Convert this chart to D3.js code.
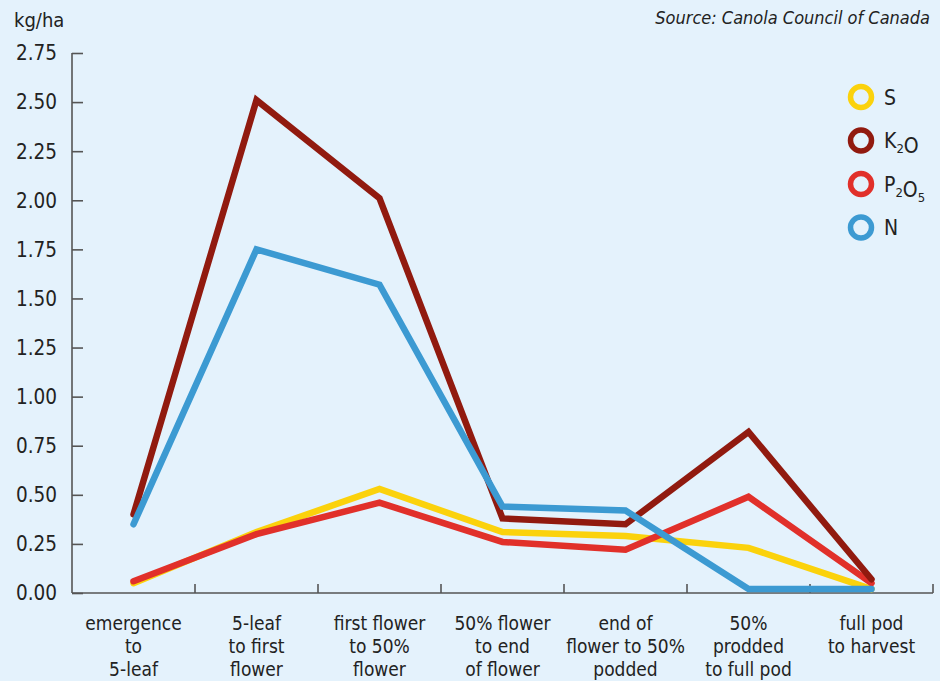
<!DOCTYPE html>
<html>
<head>
<meta charset="utf-8">
<script src="https://cdn.jsdelivr.net/npm/d3@7"></script>
<style>
  html, body { margin: 0; padding: 0; background: #e4f2fc; }
  svg { display: block; }
  text { font-family: "Liberation Sans Narrow", "DejaVu Sans Condensed", "Roboto", sans-serif; fill: #222; }
</style>
</head>
<body>
<svg id="chart" width="940" height="681"></svg>
<script>
// Growth stages of canola
const stages = [
  ["emergence", "to", "5-leaf"],
  ["5-leaf", "to first", "flower"],
  ["first flower", "to 50%", "flower"],
  ["50% flower", "to end", "of flower"],
  ["end of", "flower to 50%", "podded"],
  ["50%", "prodded", "to full pod"],
  ["full pod", "to harvest"]
];

// Daily nutrient uptake, kg/ha
const sValues   = [0.05, 0.31, 0.53, 0.31, 0.29, 0.23, 0.02];
const k2oValues = [0.40, 2.51, 2.01, 0.38, 0.35, 0.82, 0.07];
const p2o5Values = [0.06, 0.30, 0.46, 0.26, 0.22, 0.49, 0.05];
const nValues   = [0.35, 1.75, 1.57, 0.44, 0.42, 0.02, 0.02];

const yTicks = [0, 0.25, 0.5, 0.75, 1.0, 1.25, 1.5, 1.75, 2.0, 2.25, 2.5, 2.75];

const series = [
  { key: "S",    values: sValues,    color: "#fbd20c" },
  { key: "P2O5", values: p2o5Values, color: "#e1302a" },
  { key: "K2O",  values: k2oValues,  color: "#911a0f" },
  { key: "N",    values: nValues,    color: "#3c9ad2" }
];
// legend order, top to bottom
const legendOrder = ["S", "K2O", "P2O5", "N"];

const svg = d3.select("#chart");
const plotLeft = 72, plotRight = 933, plotTop = 53, plotBottom = 593;

const x = d3.scaleBand().domain(d3.range(stages.length)).range([plotLeft, plotRight]).padding(0);
const y = d3.scaleLinear().domain([0, 2.75]).range([plotBottom, plotTop]);

// y axis
const yAxis = svg.append("g").attr("transform", `translate(${plotLeft},0)`)
  .call(d3.axisRight(y).tickValues(yTicks).tickSize(11).tickFormat(""));
yAxis.select(".domain").remove();
yAxis.selectAll(".tick line").attr("stroke", "#555").attr("stroke-width", 1.6);
svg.append("line").attr("x1", plotLeft).attr("x2", plotLeft).attr("y1", plotTop).attr("y2", plotBottom)
  .attr("stroke", "#555").attr("stroke-width", 1.6);
svg.append("g").selectAll("text").data(yTicks).join("text")
  .attr("x", 57).attr("y", d => y(d)).attr("dy", "0.36em")
  .attr("text-anchor", "end").style("font-size", "20.5px")
  .text(d => d3.format(".2f")(d));
svg.append("text").attr("x", 14).attr("y", 27).style("font-size", "20px").text("kg/ha");

// x axis with ticks at stage boundaries
const boundaries = d3.range(stages.length + 1).map(i => plotLeft + i * x.bandwidth());
svg.append("line").attr("x1", plotLeft).attr("x2", plotRight).attr("y1", plotBottom).attr("y2", plotBottom)
  .attr("stroke", "#555").attr("stroke-width", 1.6);
svg.append("g").selectAll("line").data(boundaries.slice(1)).join("line")
  .attr("x1", d => d).attr("x2", d => d).attr("y1", plotBottom).attr("y2", plotBottom - 9)
  .attr("stroke", "#555").attr("stroke-width", 1.6);

const labels = svg.append("g").selectAll("text").data(stages).join("text")
  .attr("x", (d, i) => x(i) + x.bandwidth() / 2)
  .attr("y", 630).attr("text-anchor", "middle").style("font-size", "19px");
labels.selectAll("tspan").data(d => d).join("tspan")
  .attr("x", function () { return this.parentNode.getAttribute("x"); })
  .attr("dy", (d, i) => i === 0 ? 0 : 23)
  .text(d => d);

// lines
const line = d3.line()
  .x((d, i) => x(i) + x.bandwidth() / 2)
  .y(d => y(d));
svg.append("g").selectAll("path").data(series).join("path")
  .attr("d", d => line(d.values))
  .attr("fill", "none")
  .attr("stroke", d => d.color)
  .attr("stroke-width", 6.5)
  .attr("stroke-linejoin", "miter")
  .attr("stroke-linecap", "round");

// legend
const legend = svg.append("g").selectAll("g")
  .data(legendOrder.map(k => series.find(s => s.key === k)))
  .join("g")
  .attr("transform", (d, i) => `translate(861,${97 + i * 43.5})`);
legend.append("circle").attr("r", 10.5).attr("fill", "none")
  .attr("stroke", d => d.color).attr("stroke-width", 5.5);
const lt = legend.append("text").attr("x", 23).attr("dy", "0.36em").style("font-size", "21px");
lt.each(function (d) {
  const t = d3.select(this);
  const parts = d.key.match(/[A-Z]+|\d+/g);
  parts.forEach(p => {
    if (/\d/.test(p)) {
      t.append("tspan").attr("dy", 5).style("font-size", "13px").text(p);
      t.append("tspan").attr("dy", -5).text("");
    } else {
      t.append("tspan").text(p);
    }
  });
});

// source note
svg.append("text").attr("x", 930).attr("y", 24).attr("text-anchor", "end")
  .style("font-size", "18px").style("font-style", "italic")
  .text("Source: Canola Council of Canada");
</script>
</body>
</html>
